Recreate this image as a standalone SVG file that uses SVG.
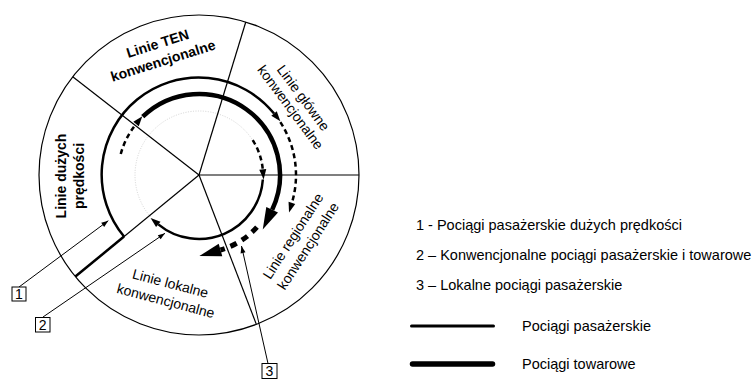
<svg xmlns="http://www.w3.org/2000/svg" width="754" height="379" viewBox="0 0 754 379">
<defs>
<style>
text{font-family:"Liberation Sans",Arial,sans-serif;fill:#000}
.lb{font-size:14px;font-weight:bold;text-anchor:middle;dominant-baseline:central}
.ln{font-size:14px;text-anchor:middle;dominant-baseline:central}
.lg{font-size:14.5px}
.bx{font-size:14px;text-anchor:middle}
.thin{fill:none;stroke:#000;stroke-width:1.2}
.pass{fill:none;stroke:#000;stroke-width:2.5}
.frt{fill:none;stroke:#000;stroke-width:4.5}
.dash{fill:none;stroke:#000;stroke-width:2.5;stroke-dasharray:5 3.5}
.fdash{fill:none;stroke:#000;stroke-width:5;stroke-dasharray:7 6}
.dot{fill:none;stroke:#c8c8c8;stroke-width:0.8;stroke-dasharray:1 1.5}
.ptr{fill:none;stroke:#000;stroke-width:1}
.box{fill:#fff;stroke:#000;stroke-width:1}
</style>
<marker id="as" markerUnits="userSpaceOnUse" viewBox="0 -5 12 10" markerWidth="12" markerHeight="10" refX="0" refY="0" orient="auto" overflow="visible"><path d="M0,-3.5 L10,0 L0,3.5 z" fill="#000"/></marker>
<marker id="ab" markerUnits="userSpaceOnUse" viewBox="0 -8 24 16" markerWidth="24" markerHeight="16" refX="0" refY="0" orient="auto" overflow="visible"><path d="M0,-6.5 L22,0 L0,6.5 z" fill="#000"/></marker>
<marker id="at" markerUnits="userSpaceOnUse" viewBox="0 -3 8 6" markerWidth="8" markerHeight="6" refX="7" refY="0" orient="auto" overflow="visible"><path d="M0,-2.5 L7,0 L0,2.5 z" fill="#000"/></marker>
</defs>

<g id="ring">
<circle cx="199" cy="175" r="160" class="thin"/>
<circle cx="199" cy="175" r="64" class="dot"/>
</g>

<g id="sectors">
<line x1="199" y1="175" x2="75.37" y2="276.55" class="thin"/>
<line x1="199" y1="175" x2="72.74" y2="76.71" class="thin"/>
<line x1="199" y1="175" x2="245.78" y2="21.99" class="thin"/>
<line x1="199" y1="175" x2="359" y2="175" class="thin"/>
<line x1="199" y1="175" x2="256.34" y2="324.38" class="thin"/>
</g>

<g id="connectors">
<line x1="124.05" y1="236.57" x2="75.37" y2="276.55" class="pass"/>
<path d="M124.05,236.57 A97,97 0 1 1 274.06,113.56" class="pass" marker-end="url(#as)"/>
<path d="M280.35,122.17 A97,97 0 0 1 291.91,202.88" class="dash" marker-end="url(#as)"/>
<path d="M120.76,154.04 A81,81 0 0 1 136.05,124.03" class="dash" marker-end="url(#as)"/>
<path d="M142.73,116.74 A81,81 0 0 1 272.17,209.74" class="frt" marker-end="url(#ab)"/>
<path d="M256.96,227.19 A78,78 0 0 1 220.5,249.98" class="fdash" marker-end="url(#ab)"/>
<path d="M252.68,140.15 A64,64 0 0 1 262.76,169.42" class="dash" marker-end="url(#as)"/>
<path d="M262.85,179.47 A64,64 0 0 1 158.29,224.38" class="pass" marker-end="url(#as)"/>
<line x1="19" y1="287" x2="108.3" y2="220.7" class="ptr" marker-end="url(#at)"/>
<line x1="43" y1="317" x2="165" y2="233.3" class="ptr" marker-end="url(#at)"/>
<line x1="268" y1="363.5" x2="241.5" y2="246" class="ptr" marker-end="url(#at)"/>
</g>

<g id="label-ten">
<text class="lb" transform="translate(157.5,43.4) rotate(-17.5)">Linie TEN</text>
<text class="lb" transform="translate(162.9,60.6) rotate(-17.5)">konwencjonalne</text>
</g>
<g id="label-hsl">
<text class="lb" transform="translate(61,176) rotate(-90)">Linie dużych</text>
<text class="lb" transform="translate(79,176) rotate(-90)">prędkości</text>
</g>
<g id="label-glowne">
<text class="ln" transform="translate(303.5,97.7) rotate(53.5)">Linie główne</text>
<text class="ln" transform="translate(290.6,107.2) rotate(53.5)">konwencjonalne</text>
</g>
<g id="label-regionalne">
<text class="ln" transform="translate(292.9,236) rotate(-57)">Linie regionalne</text>
<text class="ln" transform="translate(308,245.8) rotate(-57)">konwencjonalne</text>
</g>
<g id="label-lokalne">
<text class="ln" transform="translate(170.4,283.3) rotate(14.8)">Linie lokalne</text>
<text class="ln" transform="translate(165.8,300.7) rotate(14.8)">konwencjonalne</text>
</g>

<g id="box-1">
<rect x="12" y="287" width="14" height="14" class="box"/>
<text class="bx" x="19" y="299">1</text>
</g>
<g id="box-2">
<rect x="35.5" y="317.5" width="14.5" height="14.5" class="box"/>
<text class="bx" x="42.75" y="330">2</text>
</g>
<g id="box-3">
<rect x="262" y="363.5" width="15" height="15" class="box"/>
<text class="bx" x="269.5" y="376">3</text>
</g>

<g id="legend">
<text class="lg" x="416" y="229.5">1 - Pociągi pasażerskie dużych prędkości</text>
<text class="lg" x="416" y="260">2 – Konwencjonalne pociągi pasażerskie i towarowe</text>
<text class="lg" x="416" y="290">3 – Lokalne pociągi pasażerskie</text>
<line x1="411.5" y1="326" x2="493.5" y2="326" stroke="#000" stroke-width="3" stroke-linecap="round"/>
<text class="lg" x="522" y="330.5">Pociągi pasażerskie</text>
<line x1="412.5" y1="364" x2="492.5" y2="364" stroke="#000" stroke-width="5.5" stroke-linecap="round"/>
<text class="lg" x="522" y="368.5">Pociągi towarowe</text>
</g>
</svg>
